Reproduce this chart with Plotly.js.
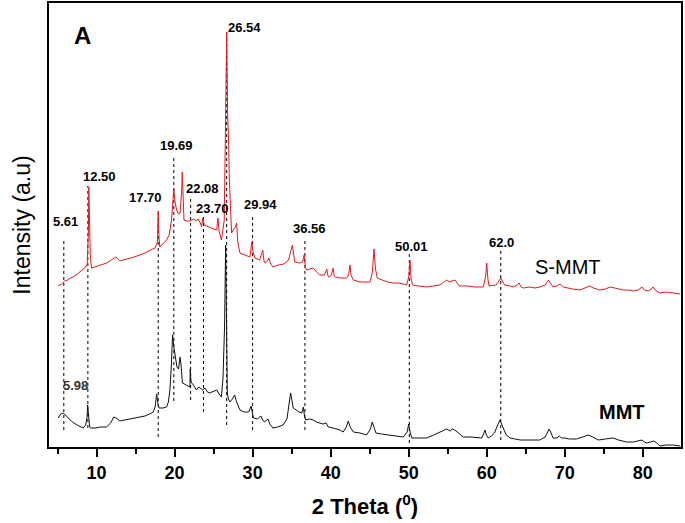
<!DOCTYPE html>
<html>
<head>
<meta charset="utf-8">
<script src="https://cdn.plot.ly/plotly-3.0.1.min.js"></script>
<style>html,body{margin:0;padding:0;background:#fff;}#chart{width:685px;height:523px;}</style>
</head>
<body>
<div id="chart"></div>
<script>
// S-MMT (red) pattern: 2θ and intensity (arbitrary units)
const smmtX = [5.08,5.5,5.9,6.3,6.6,7.0,7.5,8.0,8.5,8.8,8.95,9.0,9.08,9.2,9.36,9.8,10.5,11.3,11.9,12.47,12.98,13.5,14.2,14.8,15.55,16.2,16.9,17.5,17.8,17.9,18.0,18.1,18.6,18.97,19.3,19.6,19.9,20.05,20.26,20.5,20.7,20.9,20.98,21.05,21.2,21.6,21.96,22.4,22.8,23.0,23.3,23.46,23.6,23.8,24.1,24.5,25.0,25.4,25.55,25.7,26.0,26.2,26.36,26.55,26.67,26.8,26.92,27.0,27.1,27.3,27.5,27.8,27.95,28.1,28.37,28.9,29.65,29.9,30.05,30.3,30.9,31.3,31.45,31.6,31.9,32.1,32.3,32.6,33.3,34.0,34.6,34.9,35.1,35.3,35.4,36.0,36.4,36.6,36.75,36.9,37.4,37.77,38.2,38.6,39.2,39.5,39.65,39.8,40.1,40.3,40.45,40.6,41.2,42.05,42.3,42.47,42.6,42.9,43.76,44.5,45.04,45.35,45.55,45.75,45.97,46.6,47.3,48.0,48.7,49.3,49.74,50.0,50.17,50.3,50.5,51.3,52.3,53.2,54.0,54.5,54.87,55.2,55.5,55.94,56.5,57.5,58.5,59.56,59.85,60.0,60.15,60.3,61.2,61.6,61.83,62.0,62.3,63.0,63.4,63.9,64.14,64.4,64.7,65.5,66.2,66.83,67.5,67.9,68.1,68.5,69.0,69.4,69.8,70.3,71.0,71.96,72.7,73.2,73.7,74.5,75.2,75.8,76.4,77.0,77.5,78.2,78.8,79.4,79.9,80.2,80.7,81.1,81.3,81.6,82.2,83.0,83.9,84.8];
const smmtY = [161,163,166,167,169,170,173,176,179,183,215,260,225,190,179,180,182,184,187,190,186,187,189,190,192,194,197,199,205,236,210,200,204,207,212,227,258,245,237,233,234,255,275,250,227,226,226,228,226,228,224,220,229,222,221,219,218,217,229,216,207,218,227,340,415,330,307,270,247,214,217,220,224,205,194,192,190,205,195,189,187,197,186,184,186,189,183,180,182,183,187,196,202,190,185,184,185,192,180,177,178,179,175,172,172,178,171,170,172,179,171,170,169,169,172,182,172,167,165,165,165,175,198,178,169,167,165,164,164,163,162,170,187,168,162,161,160,161,162,165,167,165,166,167,161,161,160,160,170,184,168,161,162,166,169,166,162,161,160,162,164,160,159,160,159,160,162,167,165,160,161,163,160,159,158,157,159,161,159,157,158,160,159,158,157,157,156,157,160,157,156,158,160,157,154,155,154,153];

// MMT (black) pattern
const mmtX = [5.08,5.4,5.72,6.0,6.36,6.9,7.5,8.0,8.28,8.6,8.78,8.85,8.95,9.1,9.2,9.8,10.5,11.28,11.8,12.2,12.5,12.98,13.6,14.3,15.0,15.55,16.2,16.8,17.26,17.5,17.7,17.85,18.0,18.5,18.97,19.2,19.4,19.6,19.74,19.9,20.0,20.3,20.5,20.7,20.85,21.0,21.5,21.96,22.0,22.1,22.4,22.8,23.1,23.6,23.9,24.2,24.5,25.0,25.4,25.7,26.0,26.2,26.4,26.54,26.65,26.75,26.9,27.1,27.4,27.7,27.9,28.37,28.9,29.5,29.8,29.95,30.1,30.6,31.06,31.3,31.5,31.96,32.2,32.6,33.2,33.9,34.4,34.7,34.87,35.0,35.2,35.6,35.95,36.3,36.5,36.65,36.8,37.3,37.77,38.2,38.6,39.0,39.4,39.7,40.3,40.8,41.2,41.6,42.0,42.26,42.5,42.9,43.76,44.6,45.1,45.33,45.55,45.8,46.5,47.3,48.3,49.3,49.8,50.0,50.2,50.4,51.3,52.3,53.2,54.0,54.4,54.87,55.3,55.6,55.9,56.4,57.0,58.0,59.36,59.6,59.78,59.95,60.2,60.6,61.0,61.3,61.7,61.9,62.1,62.5,63.0,63.7,64.3,65.5,66.8,67.5,68.0,68.2,68.5,69.0,69.3,69.6,70.0,70.6,71.5,72.3,73.0,73.6,74.3,75.2,76.2,76.9,77.9,78.8,79.5,79.9,80.2,80.5,81.0,81.4,81.8,82.2,83.0,83.9,84.8];
const mmtY = [29,33,34,32,29,25,22,20,19,22,30,42,32,21,19,19,20,20,24,30,29,26,27,28,29,30,31,33,35,40,53,44,39,39,40,45,57,85,112,100,94,80,78,90,80,64,62,60,78,65,62,57,60,57,59,55,54,56,57,53,50,69,120,202,140,54,48,45,48,52,46,37,35,35,41,35,29,28,31,27,25,28,23,19,20,22,28,45,54,48,39,37,35,34,40,31,27,28,27,25,24,23,24,20,19,18,17,15,20,26,20,15,14,12,18,25,19,14,13,12,11,10,15,23,14,9,9,9,12,15,17,18,16,18,17,14,10,10,9,13,17,12,9,11,14,20,27,23,19,12,9,8,7,7,7,10,18,15,9,9,11,9,9,8,8,10,12,10,7,8,9,7,5,5,6,7,5,4,5,6,4,1,2,2,1];

// Peak marker lines (dotted): position, top and bottom
const peakLineX = [5.8,8.88,17.9,19.9,22.05,23.7,26.67,30.0,36.7,50.08,61.8];
const peakLineTop = [208,261,234,290,249,231,415,232,208,195,197];
const peakLineBottom = [17,19,10,46,47,35,22,17,17,4,7];

// Peak labels
const peakLabels = ['5.61','12.50','17.70','19.69','22.08','23.70','26.54','29.94','36.56','50.01','62.0'];
const peakLabelX = [6.0,10.42,16.3,20.3,23.63,24.9,28.9,31.0,37.35,50.33,61.83];
const peakLabelY = [226,271,250,302,259,239,420,243,219,201,205];

const xTickVals = [10,20,30,40,50,60,70,80];
const xTickText = ['10','20','30','40','50','60','70','80'];
const xMinorVals = [5,15,25,35,45,55,65,75];

const lx = [], ly = [];
peakLineX.forEach((x, i) => { lx.push(x, x, null); ly.push(peakLineBottom[i], peakLineTop[i], null); });

const traces = [
  {x: lx, y: ly, mode: 'lines', line: {color: '#000', width: 1, dash: 'dot'}, hoverinfo: 'skip', connectgaps: false},
  {x: mmtX, y: mmtY, mode: 'lines', name: 'MMT', line: {color: '#111', width: 1}},
  {x: smmtX, y: smmtY, mode: 'lines', name: 'S-MMT', line: {color: '#e3191f', width: 1}}
];

const ann = peakLabels.map((t, i) => ({
  x: peakLabelX[i], y: peakLabelY[i], text: t, showarrow: false,
  font: {family: 'Liberation Sans, Arial', size: 13, color: '#000', weight: 'bold'},
  xanchor: 'center', yanchor: 'middle'
}));
ann.push({x: 7.3, y: 62, text: '5.98', showarrow: false, font: {family: 'Liberation Sans, Arial', size: 13, color: '#333', weight: 'bold'}});
ann.push({x: 70.4, y: 180, text: 'S-MMT', showarrow: false, font: {family: 'Liberation Sans, Arial', size: 20, color: '#000'}});
ann.push({x: 77.35, y: 35, text: 'MMT', showarrow: false, font: {family: 'Liberation Sans, Arial', size: 20, color: '#000', weight: 'bold'}});
ann.push({x: 8.18, y: 412, text: 'A', showarrow: false, font: {family: 'Liberation Sans, Arial', size: 24, color: '#000', weight: 'bold'}});

const layout = {
  width: 685, height: 523,
  margin: {l: 49, r: 4, t: 3, b: 76},
  paper_bgcolor: '#fff', plot_bgcolor: '#fff',
  showlegend: false,
  xaxis: {
    range: [3.9, 84.9], showgrid: false, zeroline: false,
    tickvals: xTickVals, ticktext: xTickText,
    ticks: 'outside', ticklen: 8, tickwidth: 2, tickcolor: '#000',
    minor: {tickvals: xMinorVals, ticks: 'outside', ticklen: 5, tickwidth: 2, tickcolor: '#000', showgrid: false},
    showline: true, linewidth: 2, linecolor: '#000', mirror: true,
    tickfont: {family: 'Liberation Sans, Arial', size: 18, color: '#000', weight: 'bold'},
    title: {text: '2 Theta (<sup>0</sup>)', font: {family: 'Liberation Sans, Arial', size: 22, color: '#000', weight: 'bold'}, standoff: 17}
  },
  yaxis: {
    range: [0, 444], showgrid: false, zeroline: false, showticklabels: false, ticks: '',
    showline: true, linewidth: 2, linecolor: '#000', mirror: true,
    title: {text: 'Intensity (a.u)', font: {family: 'Liberation Sans, Arial', size: 23, color: '#000'}, standoff: 10}
  },
  annotations: ann
};
Plotly.newPlot('chart', traces, layout, {displayModeBar: false, staticPlot: true});
</script>
</body>
</html>
